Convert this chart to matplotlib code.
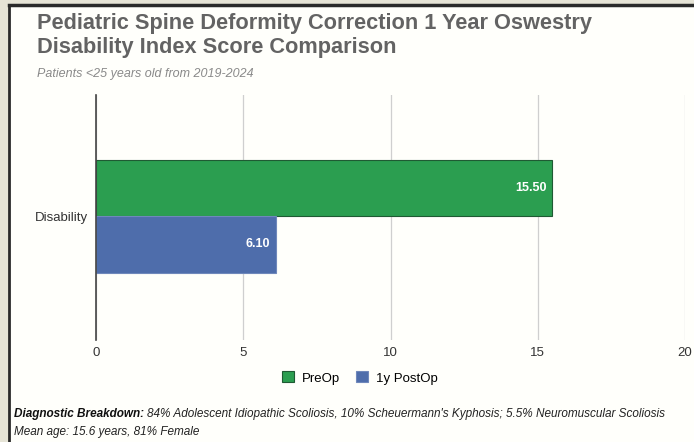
import matplotlib.pyplot as plt

plt.rcParams["font.family"] = ["Liberation Sans", "DejaVu Sans"]

category = "Disability"
series = ["PreOp", "1y PostOp"]
values = [15.50, 6.10]
colors = ["#2b9e50", "#4e6dab"]
xticks = [0, 5, 10, 15, 20]

fig = plt.figure(figsize=(6.94, 4.42), dpi=100)
fig.patch.set_facecolor("#e6e4d6")

# white card with dark border top/left
bg = fig.add_axes([9 / 694, 0, 1 - 9 / 694, 1 - 5 / 442], zorder=-1)
bg.set_facecolor("#fffffb")
bg.set_xticks([])
bg.set_yticks([])
for sp in ["right", "bottom"]:
    bg.spines[sp].set_visible(False)
bg.spines["left"].set_color("#2a2a2a")
bg.spines["left"].set_linewidth(2)
bg.spines["top"].set_color("#2a2a2a")
bg.spines["top"].set_linewidth(2.5)

ax = fig.add_axes([96 / 694, 1 - 340 / 442, (685 - 96) / 694, (340 - 95) / 442])
ax.set_facecolor("none")

h = 0.23
ypos = [0.505 + h / 2, 0.505 - h / 2]
edges = ["#1f5a33", "#6f88bb"]
for y, v, c, e, s in zip(ypos, values, colors, edges, series):
    ax.barh(y, v, height=h, color=c, edgecolor=e, linewidth=0.8, label=s, zorder=3)
    ax.text(v - 0.2, y, f"{v:.2f}", ha="right", va="center", color="white",
            fontsize=9, fontweight="bold", zorder=4)

ax.set_xlim(0, 20)
ax.set_ylim(0, 1)
ax.set_xticks(xticks)
ax.set_xticklabels([str(t) for t in xticks], fontsize=9.5, color="#333333")
ax.set_yticks([0.505])
ax.set_yticklabels([category], fontsize=9.5, color="#333333")
ax.tick_params(length=0, pad=5)
ax.tick_params(axis="y", pad=6)
ax.grid(axis="x", color="#cfcfcf", lw=0.9, zorder=0)
for sp in ["top", "right", "bottom"]:
    ax.spines[sp].set_visible(False)
ax.spines["left"].set_color("#444444")
ax.spines["left"].set_linewidth(1.2)
ax.spines["left"].set_zorder(5)

fig.text(37 / 694, 1 - 23 / 442, "Pediatric Spine Deformity Correction 1 Year Oswestry",
         fontsize=15.7, fontweight="bold", color="#636363", va="center")
fig.text(37 / 694, 1 - 48 / 442, "Disability Index Score Comparison",
         fontsize=15.7, fontweight="bold", color="#636363", va="center")
fig.text(37 / 694, 1 - 74 / 442, "Patients <25 years old from 2019-2024", fontsize=9,
         style="italic", color="#8a8a8a", va="center")

fig.legend(loc="center", bbox_to_anchor=(360 / 694, 1 - 378 / 442), ncol=2, frameon=False,
           fontsize=9.5, handlelength=0.9, handleheight=0.9, columnspacing=1.2, handletextpad=0.6)

t1 = fig.text(14 / 694, 1 - 414 / 442, "Diagnostic Breakdown:", fontsize=8.5, style="italic",
              fontweight="bold", color="#111111", va="center")
fig.canvas.draw()
bb = t1.get_window_extent()
fig.text(bb.x1 / fig.bbox.width + 3 / 694, 1 - 414 / 442,
         "84% Adolescent Idiopathic Scoliosis, 10% Scheuermann's Kyphosis; 5.5% Neuromuscular Scoliosis",
         fontsize=8.5, style="italic", color="#222222", va="center")
fig.text(14 / 694, 1 - 432 / 442, "Mean age: 15.6 years, 81% Female", fontsize=8.5,
         style="italic", color="#222222", va="center")

fig.savefig("out.png", dpi=100, facecolor=fig.get_facecolor())
